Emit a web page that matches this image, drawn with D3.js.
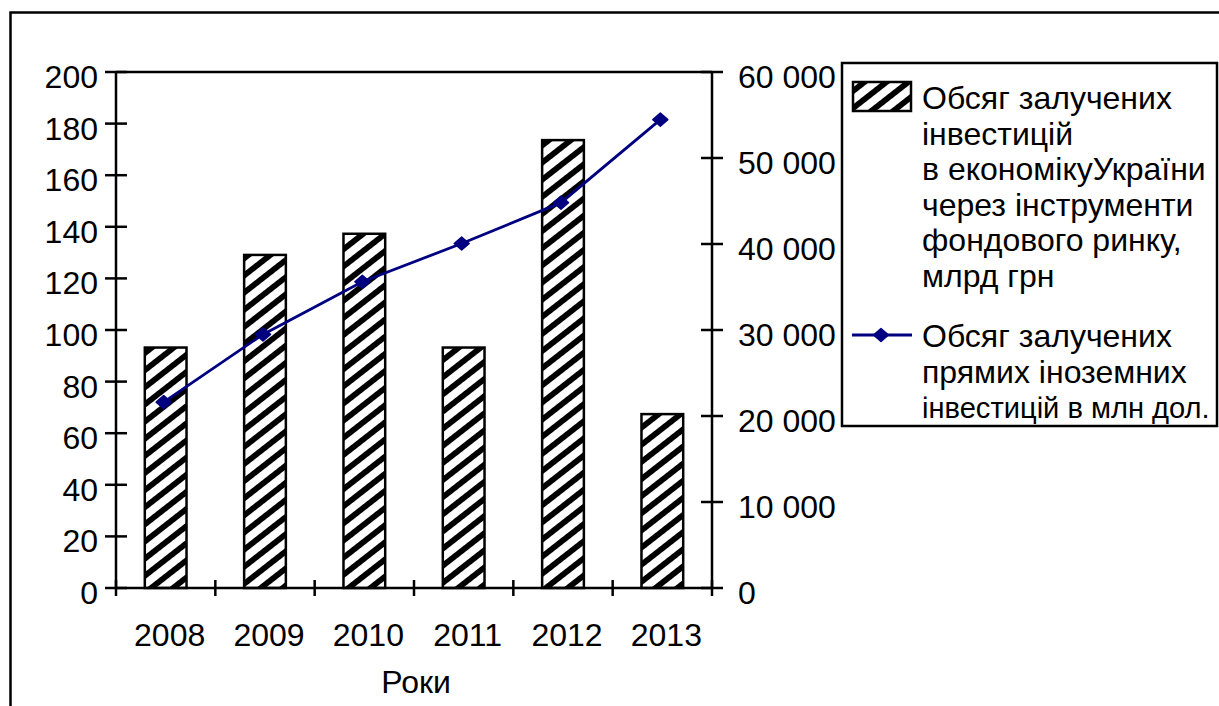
<!DOCTYPE html>
<html>
<head>
<meta charset="utf-8">
<script src="https://cdn.jsdelivr.net/npm/d3@7/dist/d3.min.js"></script>
<style>
  html, body { margin: 0; padding: 0; background: #fff; }
  svg { display: block; }
  text { font-family: "Liberation Sans", Arial, sans-serif; fill: #000; }
</style>
</head>
<body>
<script>
// Years on the category axis
const years = ["2008", "2009", "2010", "2011", "2012", "2013"];
// Investments raised through stock market instruments, bn UAH (left axis, bars)
const stockInvest = [93.2, 129.1, 137.3, 93.2, 173.6, 67.4];
// Foreign direct investment, mln USD (right axis, line)
const fdi = [21607, 29489, 35616, 40053, 44806, 54463];
// Axis ticks
const leftTicks = [0, 20, 40, 60, 80, 100, 120, 140, 160, 180, 200];
const rightTicks = [0, 10000, 20000, 30000, 40000, 50000, 60000];
const legendBars = ["Обсяг залучених", "інвестицій", "в економікуУкраїни", "через інструменти", "фондового ринку,", "млрд грн"];
const legendLine = ["Обсяг залучених", "прямих іноземних", "інвестицій в млн дол."];
const xTitle = "Роки";

const W = 1219, H = 706;
const FS = 32;
const svg = d3.select("body").append("svg").attr("width", W).attr("height", H);

// Diagonal hatch for the bars
const defs = svg.append("defs");
const pat = defs.append("pattern")
  .attr("id", "hatch")
  .attr("patternUnits", "userSpaceOnUse")
  .attr("width", 40).attr("height", 13.5)
  .attr("patternTransform", "rotate(-38)");
pat.append("rect").attr("width", 40).attr("height", 13.5).attr("fill", "#fff");
pat.append("rect").attr("y", 0).attr("width", 40).attr("height", 5.8).attr("fill", "#000");

// Outer frame
svg.append("rect")
  .attr("x", 10.5).attr("y", 12.5)
  .attr("width", 1400).attr("height", 900)
  .attr("fill", "none").attr("stroke", "#000").attr("stroke-width", 2.5);

const plotL = 116, plotR = 712, plotT = 72, plotB = 588;

const x = d3.scaleBand().domain(years).range([plotL, plotR]).padding(0);
const yL = d3.scaleLinear().domain([0, 200]).range([plotB, plotT]);
const yR = d3.scaleLinear().domain([0, 60000]).range([plotB, plotT]);

// Bars
const bw = x.bandwidth() * 0.42;
svg.append("g").selectAll("rect")
  .data(years.map((y, i) => ({ y, v: stockInvest[i] })))
  .join("rect")
  .attr("x", d => x(d.y) + (x.bandwidth() - bw) / 2)
  .attr("y", d => yL(d.v))
  .attr("width", bw)
  .attr("height", d => yL(0) - yL(d.v))
  .attr("fill", "url(#hatch)")
  .attr("stroke", "#000").attr("stroke-width", 2.5);

// Axes lines
const axisG = svg.append("g").attr("stroke", "#000").attr("stroke-width", 2.5).attr("fill", "none");
axisG.append("line").attr("x1", plotL).attr("x2", plotL).attr("y1", plotT).attr("y2", plotB);
axisG.append("line").attr("x1", plotR).attr("x2", plotR).attr("y1", plotT).attr("y2", plotB);
axisG.append("line").attr("x1", plotL).attr("x2", plotR).attr("y1", plotB).attr("y2", plotB);
axisG.append("line").attr("x1", plotL).attr("x2", plotR).attr("y1", plotT).attr("y2", plotT);

// Left ticks and labels
leftTicks.forEach(t => {
  axisG.append("line").attr("x1", plotL - 11).attr("x2", plotL + 11).attr("y1", yL(t)).attr("y2", yL(t));
  svg.append("text").attr("x", 98).attr("y", yL(t) + 16)
    .attr("text-anchor", "end").attr("font-size", FS).text(t);
});

// Right ticks and labels
const fmt = v => d3.format(",")(v).replace(/,/g, " ");
rightTicks.forEach(t => {
  axisG.append("line").attr("x1", plotR - 11).attr("x2", plotR + 11).attr("y1", yR(t)).attr("y2", yR(t));
  svg.append("text").attr("x", 738).attr("y", yR(t) + 16)
    .attr("text-anchor", "start").attr("font-size", FS).text(fmt(t));
});

// Category ticks at band boundaries
const bounds = years.map(y => x(y)).concat([plotR]);
bounds.forEach(b => {
  axisG.append("line").attr("x1", b).attr("x2", b).attr("y1", plotB - 8).attr("y2", plotB + 8);
});
years.forEach(y => {
  svg.append("text").attr("x", x(y) + x.bandwidth() / 2 + 4).attr("y", 646)
    .attr("text-anchor", "middle").attr("font-size", FS).text(y);
});
svg.append("text").attr("x", (plotL + plotR) / 2 + 2).attr("y", 693)
  .attr("text-anchor", "middle").attr("font-size", FS).text(xTitle);

// FDI line with diamond markers
const navy = "#000080";
const lineGen = d3.line().x((d, i) => x(years[i]) + x.bandwidth() / 2 - 2).y(d => yR(d));
svg.append("path").datum(fdi).attr("d", lineGen)
  .attr("fill", "none").attr("stroke", navy).attr("stroke-width", 2.8);
const diamond = (cx, cy) => `M${cx - 7.5},${cy}L${cx},${cy - 6.5}L${cx + 7.5},${cy}L${cx},${cy + 6.5}Z`;
svg.append("g").selectAll("path").data(fdi).join("path")
  .attr("d", (d, i) => diamond(x(years[i]) + x.bandwidth() / 2 - 2, yR(d)))
  .attr("fill", navy).attr("stroke", navy).attr("stroke-width", 1.5).attr("stroke-linejoin", "round");

// Legend
const lg = svg.append("g");
lg.append("rect").attr("x", 842).attr("y", 63).attr("width", 375).attr("height", 363)
  .attr("fill", "#fff").attr("stroke", "#000").attr("stroke-width", 2.5);
lg.append("rect").attr("x", 853).attr("y", 82).attr("width", 58).attr("height", 29)
  .attr("fill", "url(#hatch)").attr("stroke", "#000").attr("stroke-width", 2.5);
// Shrink a legend line's font if it would run past the legend box
const fitLine = (sel, maxW) => {
  const w = sel.node().getComputedTextLength();
  if (w > maxW) sel.attr("font-size", Math.floor(FS * maxW / w * 10) / 10);
};
legendBars.forEach((s, i) => {
  const t = lg.append("text").attr("x", 922).attr("y", 109 + i * 35.5).attr("font-size", FS).text(s);
  fitLine(t, 288);
});
lg.append("line").attr("x1", 852).attr("x2", 912).attr("y1", 335).attr("y2", 335)
  .attr("stroke", navy).attr("stroke-width", 2.8);
lg.append("path").attr("d", diamond(881, 335))
  .attr("fill", navy).attr("stroke", navy).attr("stroke-width", 1.5).attr("stroke-linejoin", "round");
legendLine.forEach((s, i) => {
  const t = lg.append("text").attr("x", 922).attr("y", 347 + i * 35.5).attr("font-size", FS).text(s);
  fitLine(t, 288);
});
</script>
</body>
</html>
